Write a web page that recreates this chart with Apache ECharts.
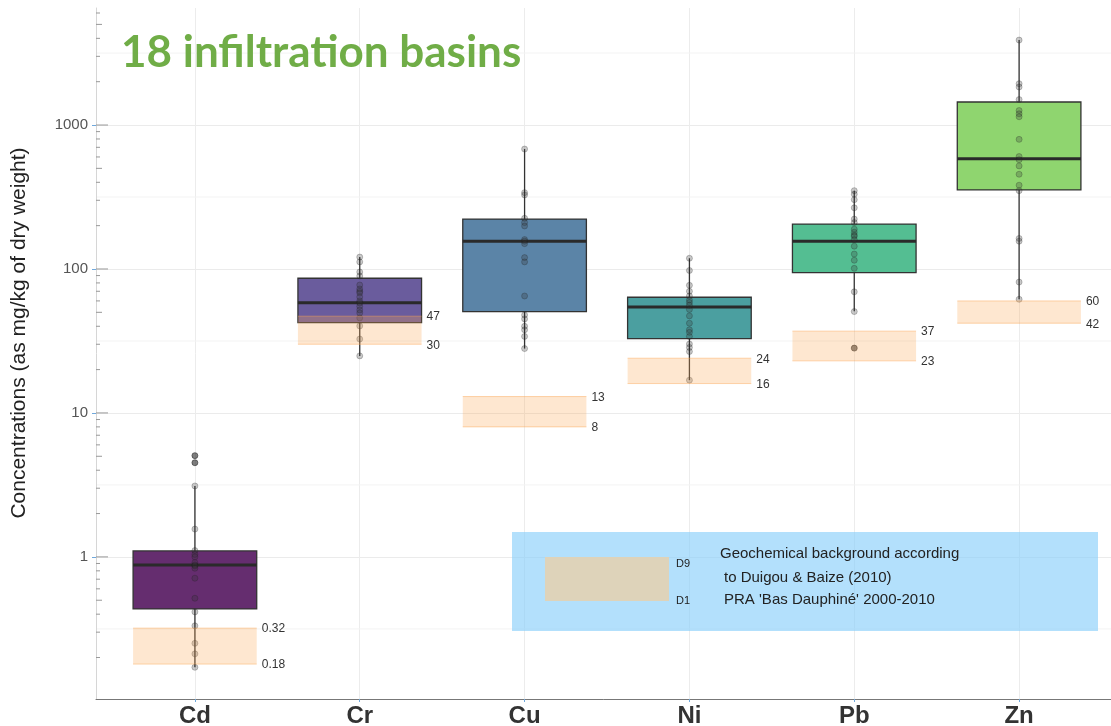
<!DOCTYPE html>
<html><head><meta charset="utf-8">
<script src="https://cdn.jsdelivr.net/npm/echarts@6/dist/echarts.min.js"></script>
<style>html,body{margin:0;padding:0;background:#fff}#c{width:1111px;height:726px}</style>
</head><body><div id="c"></div>
<script>
const categories = ['Cd', 'Cr', 'Cu', 'Ni', 'Pb', 'Zn'];
const boxColors = ['#652D6F', '#6A5C9D', '#5B84A7', '#4B9FA0', '#54BE92', '#8FD56F'];
// [category index, lower whisker, Q1, median, Q3, upper whisker]
const boxStats = [
  [0, 0.171, 0.435, 0.88, 1.10, 3.11],
  [1, 24.9, 42.4, 58.3, 86.2, 121],
  [2, 28.0, 50.5, 156, 222, 681],
  [3, 16.9, 32.8, 54.5, 63.6, 118.7],
  [4, 50.9, 94.2, 156, 205, 350],
  [5, 61.6, 354, 583, 1445, 3892]
];
const cdValues = [3.11, 1.56, 1.106, 1.04, 1.0, 0.913, 0.88, 0.866, 0.834, 0.711, 0.516, 0.415, 0.332, 0.251, 0.212, 0.171];
const crValues = [121, 112, 95.3, 89.4, 77.4, 72.6, 70, 68.1, 63.9, 60, 58.1, 55, 51.9, 49.5, 45.7, 40.2, 32.6, 24.9];
const cuValues = [681, 339, 327, 225, 210, 199, 160, 156, 150, 120, 112, 64.9, 47.9, 45, 40, 37.8, 34, 28];
const niValues = [118.7, 97.6, 77, 70, 64.9, 60.9, 58.5, 56, 52.3, 47.2, 42, 37.8, 36.3, 34, 30.1, 28.5, 26.7, 16.9];
const pbValues = [350, 331, 303, 266, 222, 210, 189, 180, 172, 169, 160, 144, 127, 115, 101, 69.4, 50.6];
const znValues = [3892, 1937, 1837, 1503, 1261, 1197, 1141, 795, 604, 574, 520, 455, 382, 350, 163, 156, 81.1, 61.6];
// outliers: [category index, value]
const outliers = [[0, 5.05], [0, 4.51], [4, 28.2]];
// geochemical background D1 / D9
const bgD1 = [0.18, 30, 8, 16, 23, 42];
const bgD9 = [0.32, 47, 13, 24, 37, 60];
const bgLabelsD1 = ['0.18', '30', '8', '16', '23', '42'];
const bgLabelsD9 = ['0.32', '47', '13', '24', '37', '60'];
const yTickValues = [1, 10, 100, 1000];
const yHalfDecades = [0.316, 3.16, 31.6, 316, 3162];
const yLogTicks = [0.2,0.3,0.4,0.5,0.6,0.7,0.8,0.9, 2,3,4,5,6,7,8,9, 20,30,40,50,60,70,80,90,
                   200,300,400,500,600,700,800,900, 2000,3000,4000,5000,6000];
const xTickValues = [0, 1, 2, 3, 4, 5];

const pointSets = [cdValues, crValues, cuValues, niValues, pbValues, znValues];
const pointData = [];
pointSets.forEach((arr, i) => arr.forEach(v => pointData.push([i, v])));
const bandData = bgD1.map((d1, i) => [i, d1, bgD9[i]]);

const chart = echarts.init(document.getElementById('c'), null, {renderer: 'canvas'});
const HALF = 0.375;

const option = {
  animation: false,
  backgroundColor: '#ffffff',
  title: {
    text: '18 infiltration basins', left: 116, top: 26,
    textStyle: {fontFamily: 'Lato', fontWeight: 'bold', fontSize: 44, color: '#70AD47'}
  },
  grid: {left: 96, top: 8, width: 1022, bottom: 27, containLabel: false, outerBoundsMode: 'none'},
  xAxis: {
    type: 'value', min: -0.6, max: 5.6,
    axisLine: {show: true, onZero: false, lineStyle: {color: '#777', width: 1}},
    axisTick: {show: true, customValues: xTickValues, length: 3, lineStyle: {color: '#6FA8DC'}},
    axisLabel: {customValues: xTickValues, formatter: v => categories[v] || '',
      fontFamily: 'Liberation Sans', fontWeight: 'bold', fontSize: 24, color: '#333', margin: 5},
    splitLine: {show: true, lineStyle: {color: '#ececec', width: 1}}
  },
  yAxis: {
    type: 'log', logBase: 10, min: 0.103, max: 6500,
    axisLine: {show: true, onZero: false, lineStyle: {color: '#d6d6d6'}},
    axisTick: {show: true, customValues: yTickValues, length: 4, lineStyle: {color: '#6FA8DC'}},
    axisLabel: {customValues: yTickValues, fontFamily: 'Liberation Sans', fontSize: 15, color: '#555', margin: 8,
      formatter: v => String(v)},
    splitLine: {show: true, lineStyle: {color: '#ebebeb', width: 1}}
  },
  graphic: [
    {type: 'text', x: 19, y: 333, rotation: Math.PI / 2, z: 102,
     style: {text: 'Concentrations (as mg/kg of dry weight)', font: '21px "Liberation Sans"', fill: '#222',
             align: 'center', verticalAlign: 'middle'}},
    {type: 'rect', left: 512, top: 532, shape: {width: 586, height: 99}, z: 100,
     style: {fill: 'rgba(135,206,250,0.63)'}},
    {type: 'rect', left: 545, top: 557, shape: {width: 124, height: 44}, z: 101,
     style: {fill: '#DED3BA'}},
    {type: 'text', left: 676, top: 558, z: 102, style: {text: 'D9', font: '11px "Liberation Sans"', fill: '#222'}},
    {type: 'text', left: 676, top: 595, z: 102, style: {text: 'D1', font: '11px "Liberation Sans"', fill: '#222'}},
    {type: 'text', left: 720, top: 546, z: 102, style: {text: 'Geochemical background according', font: '15px "Liberation Sans"', fill: '#222'}},
    {type: 'text', left: 724, top: 570, z: 102, style: {text: 'to Duigou & Baize (2010)', font: '15px "Liberation Sans"', fill: '#222'}},
    {type: 'text', left: 724, top: 592, z: 102, style: {text: "PRA 'Bas Dauphiné' 2000-2010", font: '15px "Liberation Sans"', fill: '#222'}}
  ],
  series: [
    {
      name: 'halfDecadeGrid', type: 'custom', z: 0, silent: true,
      data: yHalfDecades.map(v => [v]),
      encode: {y: 0},
      renderItem: (params, api) => {
        const y = api.coord([0, api.value(0)])[1];
        const x0 = api.coord([-0.6, 1])[0], x1 = api.coord([5.6, 1])[0];
        return {type: 'line', shape: {x1: x0, y1: y, x2: x1, y2: y}, style: {stroke: '#f3f3f3', lineWidth: 1}};
      }
    },
    {
      name: 'logTicks', type: 'custom', z: 1, silent: true,
      data: yLogTicks.concat(yTickValues).map(v => [v]),
      encode: {y: 0},
      renderItem: (params, api) => {
        const v = api.value(0);
        const y = api.coord([0, v])[1];
        const x0 = api.coord([-0.6, 1])[0];
        const m = Math.round(v / Math.pow(10, Math.floor(Math.log10(v) + 1e-9)));
        const len = m === 1 ? 12 : (m === 5 ? 6 : 4);
        return {type: 'line', shape: {x1: x0, y1: y, x2: x0 + len, y2: y}, style: {stroke: '#999', lineWidth: 1}};
      }
    },
    {
      name: 'boxes', type: 'custom', z: 2, silent: true,
      data: boxStats,
      encode: {x: 0, y: [1, 2, 3, 4, 5]},
      renderItem: (params, api) => {
        const i = api.value(0);
        const xl = api.coord([i - HALF, 1])[0], xr = api.coord([i + HALF, 1])[0];
        const xc = api.coord([i, 1])[0];
        const yLo = api.coord([i, api.value(1)])[1];
        const yQ1 = api.coord([i, api.value(2)])[1];
        const yMed = api.coord([i, api.value(3)])[1];
        const yQ3 = api.coord([i, api.value(4)])[1];
        const yHi = api.coord([i, api.value(5)])[1];
        return {type: 'group', children: [
          {type: 'line', shape: {x1: xc, y1: yHi, x2: xc, y2: yQ3}, style: {stroke: '#333', lineWidth: 1.3}},
          {type: 'line', shape: {x1: xc, y1: yQ1, x2: xc, y2: yLo}, style: {stroke: '#333', lineWidth: 1.3}},
          {type: 'rect', shape: {x: xl, y: yQ3, width: xr - xl, height: yQ1 - yQ3},
           style: {fill: boxColors[i], stroke: '#333', lineWidth: 1.3}},
          {type: 'line', shape: {x1: xl, y1: yMed, x2: xr, y2: yMed}, style: {stroke: '#2a2a2a', lineWidth: 3}}
        ]};
      }
    },
    {
      name: 'samples', type: 'scatter', z: 3, silent: true,
      data: pointData, symbolSize: 6,
      itemStyle: {color: 'rgba(50,50,50,0.32)', borderColor: 'rgba(30,30,30,0.4)', borderWidth: 0.8}
    },
    {
      name: 'outliers', type: 'scatter', z: 3, silent: true,
      data: outliers, symbolSize: 6,
      itemStyle: {color: 'rgba(40,40,40,0.75)', borderColor: 'rgba(30,30,30,0.8)', borderWidth: 0.8}
    },
    {
      name: 'background', type: 'custom', z: 4, silent: true,
      data: bandData,
      encode: {x: 0, y: [1, 2]},
      renderItem: (params, api) => {
        const i = api.value(0);
        const xl = api.coord([i - HALF, 1])[0], xr = api.coord([i + HALF, 1])[0];
        const yLo = api.coord([i, api.value(1)])[1];
        const yHi = api.coord([i, api.value(2)])[1];
        const font = '12px "Liberation Sans"';
        return {type: 'group', children: [
          {type: 'rect', shape: {x: xl, y: yHi, width: xr - xl, height: yLo - yHi}, style: {fill: 'rgba(250,165,80,0.27)'}},
          {type: 'line', shape: {x1: xl, y1: yHi, x2: xr, y2: yHi}, style: {stroke: 'rgba(250,165,80,0.45)', lineWidth: 1}},
          {type: 'line', shape: {x1: xl, y1: yLo, x2: xr, y2: yLo}, style: {stroke: 'rgba(250,165,80,0.45)', lineWidth: 1}},
          {type: 'text', style: {x: xr + 5, y: yHi + 1, text: bgLabelsD9[i], font: font, fill: '#333', verticalAlign: 'middle'}},
          {type: 'text', style: {x: xr + 5, y: yLo + 1, text: bgLabelsD1[i], font: font, fill: '#333', verticalAlign: 'middle'}}
        ]};
      }
    }
  ]
};
chart.setOption(option);
</script>
</body></html>
